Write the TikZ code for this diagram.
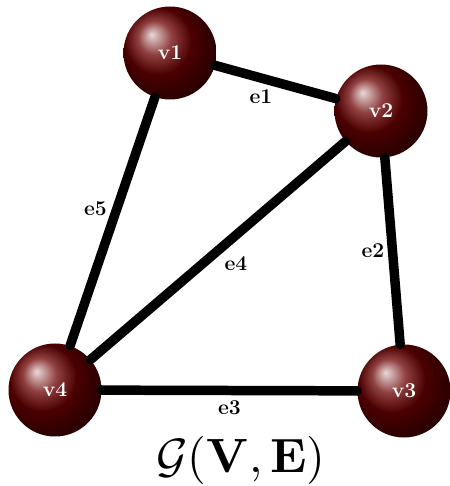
\documentclass[tikz,border=0pt]{standalone}
\usetikzlibrary{shadings}
\begin{document}
\begin{tikzpicture}
% graph with shaded vertices
\def\ballsz{1.86cm}
\providecommand{\graphBallColor}{red!42!black}
\providecommand{\graphEdgeWidth}{5.4pt}
\tikzset{
  vertex/.style={circle, shading=ball, ball color=\graphBallColor, minimum size=\ballsz,
    inner sep=0pt, text=white, font=\large\bfseries},
  edge/.style={draw=black, line width=\graphEdgeWidth, line cap=round},
  elabel/.style={font=\large\bfseries, inner sep=1pt}
}
\useasboundingbox (0,0) rectangle (9,9.72);
% Vertices
\node[vertex] (v1) at (3.40,8.66) {v1};
\node[vertex] (v2) at (7.62,7.50) {v2};
\node[vertex] (v3) at (8.08,1.90) {v3};
\node[vertex] (v4) at (1.10,1.92) {v4};
% Edges
\begin{scope}[every node/.style=elabel]
  \draw[edge] (v1) -- node[pos=0.38, below=3pt] {e1} (v2);
  \draw[edge] (v2) -- node[pos=0.5, left=1pt] {e2} (v3);
  \draw[edge] (v3) -- node[pos=0.5, below=2pt] {e3} (v4);
  \draw[edge] (v2) -- node[pos=0.5, below right=0pt] {e4} (v4);
  \draw[edge] (v1) -- node[pos=0.45, left=2pt] {e5} (v4);
\end{scope}
% Caption
\node[scale=2.74] (caption) at (4.82,0.52) {$\mathcal{G}(\mathbf{V},\mathbf{E})$};
\end{tikzpicture}
\end{document}
